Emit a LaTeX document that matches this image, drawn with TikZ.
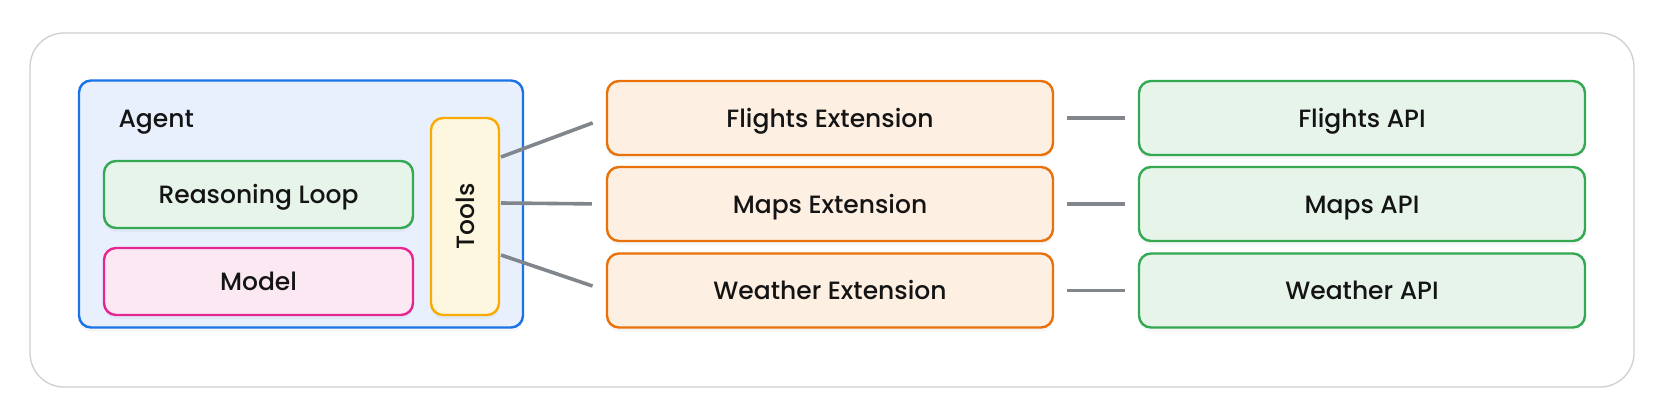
\documentclass[tikz,border=0pt]{standalone}
\usepackage{fontspec}
\setmainfont{Poppins}[UprightFont=* Medium]
\usetikzlibrary{shadows}
\definecolor{outerc}{HTML}{CFCFCF}
\definecolor{bluec}{HTML}{1A73E8}
\definecolor{bluef}{HTML}{E8F0FE}
\definecolor{greenc}{HTML}{34A853}
\definecolor{greenf}{HTML}{E6F4EA}
\definecolor{pinkc}{HTML}{E52592}
\definecolor{pinkf}{HTML}{FCE8F3}
\definecolor{yellc}{HTML}{F9AB00}
\definecolor{yellf}{HTML}{FEF7E0}
\definecolor{orangec}{HTML}{E8710A}
\definecolor{orangef}{HTML}{FEEFE3}
\definecolor{linec}{HTML}{80868B}
\tikzset{
  lbl/.style={font=\fontsize{25}{30}\selectfont, text=black!92, text height=18pt, text depth=0pt},
  box/.style={draw, line width=2.4pt, rounded corners=12pt, inner sep=0pt, lbl,
    drop shadow={opacity=0.07, shadow xshift=0pt, shadow yshift=-4pt}},
  extbox/.style={box, draw=orangec, fill=orangef, minimum width=446pt, minimum height=74pt},
  apibox/.style={box, draw=greenc, fill=greenf, minimum width=446pt, minimum height=74pt},
  conn/.style={draw=linec, line width=3.6pt},
}
\begin{document}
\begin{tikzpicture}[x=1pt,y=-1pt]
\useasboundingbox[fill=white] (0,0) rectangle (1661,408);
\node[draw=outerc, line width=1.3pt, rounded corners=34pt, fill=white, minimum width=1604pt, minimum height=354pt] (outer) at (832,210) {};
\node[box, draw=bluec, fill=bluef, minimum width=444pt, minimum height=247pt] (agent) at (301,204) {};
\node[anchor=west, lbl] (agentlbl) at (115,118) {Agent};
\node[box, draw=greenc, fill=greenf, minimum width=309pt, minimum height=67pt] (loop) at (258.5,194.5) {Reasoning Loop};
\node[box, draw=pinkc, fill=pinkf, minimum width=309pt, minimum height=67pt] (model) at (258.5,281.5) {Model};
\node[box, draw=yellc, fill=yellf, minimum width=68pt, minimum height=197pt] (tools) at (465,216.5) {};
\node[rotate=90, lbl] (toolslbl) at (tools.center) {Tools};
\node[extbox] (fe) at (830,118) {Flights Extension};
\node[extbox] (me) at (830,204) {Maps Extension};
\node[extbox] (we) at (830,290.5) {Weather Extension};
\node[apibox] (fa) at (1362,118) {Flights API};
\node[apibox] (ma) at (1362,204) {Maps API};
\node[apibox] (wa) at (1362,290.5) {Weather API};
\coordinate (t1) at (501,157);
\coordinate (t2) at (501,203);
\coordinate (t3) at (501,255);
\draw[conn, shorten >=14pt] (t1) -- (fe.west);
\draw[conn, shorten >=14pt] (t2) -- (me.west);
\draw[conn, shorten >=14pt] (t3) -- (we.west);
\draw[conn, shorten <=13pt, shorten >=13pt] (fe.east) -- (fa.west);
\draw[conn, shorten <=13pt, shorten >=13pt] (me.east) -- (ma.west);
\draw[conn, shorten <=13pt, shorten >=13pt] (we.east) -- (wa.west);
\end{tikzpicture}
\end{document}
